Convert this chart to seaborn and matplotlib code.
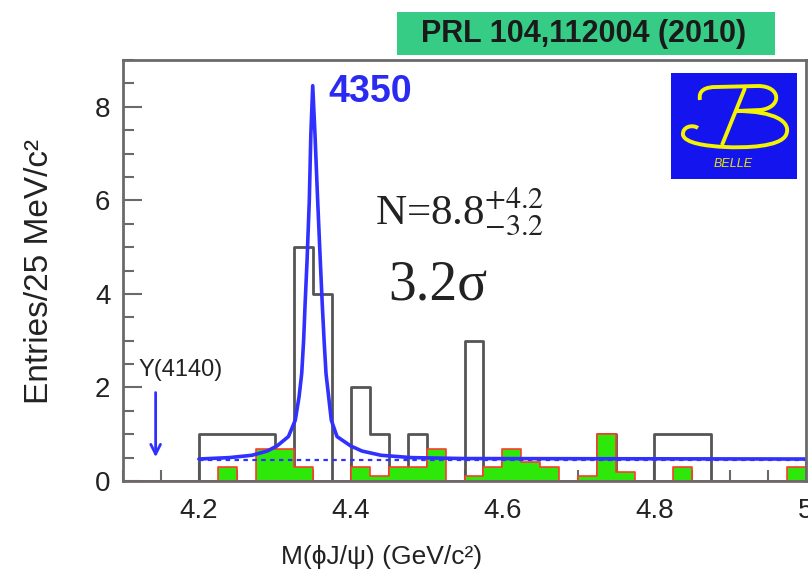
import numpy as np
import pandas as pd
import matplotlib
matplotlib.use("Agg")
import matplotlib.pyplot as plt
import seaborn as sns
from matplotlib.patches import Rectangle, PathPatch
from matplotlib.path import Path
from matplotlib.transforms import Affine2D
from matplotlib.ticker import MultipleLocator, FuncFormatter

# ---------------- data ----------------
hist_start = 4.2
bin_width = 0.025
data_counts = [1, 1, 1, 1, 0, 5, 4, 0, 2, 1, 0, 1, 0, 0, 3, 0,
               0, 0, 0, 0, 0, 1, 0, 0, 1, 1, 1, 0, 0, 0, 0, 0]
sideband_counts = [0, 0.3, 0, 0.69, 0.69, 0.3, 0, 0, 0.3, 0.1, 0.3, 0.3, 0.69, 0, 0.1, 0.3,
                   0.69, 0.4, 0.3, 0, 0.1, 1.0, 0.2, 0, 0, 0.3, 0, 0, 0, 0, 0, 0.3]
fit_mass = [4.200, 4.240, 4.270, 4.290, 4.303, 4.318, 4.327, 4.332, 4.3355, 4.338,
            4.340, 4.3425, 4.3455, 4.3475, 4.350, 4.353, 4.3565, 4.360, 4.3625, 4.365,
            4.3675, 4.371, 4.3745, 4.382, 4.400, 4.415, 4.440, 4.480, 4.550, 5.000]
fit_value = [0.47, 0.50, 0.55, 0.64, 0.75, 0.95, 1.30, 1.80, 2.30, 3.00,
             3.80, 4.70, 6.00, 7.40, 8.45, 7.40, 6.00, 4.70, 3.80, 3.00,
             2.30, 1.80, 1.30, 0.95, 0.75, 0.64, 0.55, 0.50, 0.48, 0.47]
bkg_level = 0.45
bkg_range = [4.2, 5.0]
y4140_mass = 4.143
x_ticks = [4.2, 4.4, 4.6, 4.8, 5.0]
y_ticks = [0, 2, 4, 6, 8]

# ---------------- style ----------------
sns.set_style("ticks")
plt.rcParams['font.family'] = ['Liberation Sans', 'DejaVu Sans']
spine_col = '#6a6a6a'

W, H = 808, 579
fig = plt.figure(figsize=(W / 100, H / 100), dpi=100)
ax = fig.add_axes([123 / W, 1 - 481 / H, (806 - 123) / W, (481 - 60) / H])
pix = Affine2D().scale(1 / W, -1 / H).translate(0, 1) + fig.transFigure

n = len(data_counts)
centers = hist_start + bin_width * (np.arange(n) + 0.5)
df = pd.DataFrame({'mass': centers, 'data': data_counts, 'side': sideband_counts})

sns.histplot(data=df, x='mass', weights='data', binwidth=bin_width, binrange=(4.1, 5.0),
             element='step', fill=False, color='#555555', linewidth=2.0, ax=ax, zorder=2)
sns.histplot(data=df, x='mass', weights='side', binwidth=bin_width, binrange=(4.1, 5.0),
             element='step', fill=True, facecolor='#2ee80a', edgecolor='#ff3b2f',
             linewidth=1.2, alpha=1, ax=ax, zorder=3)

fit_df = pd.DataFrame({'m': fit_mass, 'v': fit_value})
sns.lineplot(data=fit_df, x='m', y='v', color='#3030ff', linewidth=2.6, ax=ax, zorder=5)
bk_df = pd.DataFrame({'m': bkg_range, 'v': [bkg_level, bkg_level]})
sns.lineplot(data=bk_df, x='m', y='v', color='#3030ff', linewidth=1.6, linestyle=(0, (2, 2)),
             ax=ax, zorder=4)

ax.annotate('', xy=(y4140_mass, 0.45), xytext=(y4140_mass, 1.95),
            arrowprops=dict(arrowstyle='->,head_length=0.7,head_width=0.35', color='#3030ff', lw=2))
ax.text(4.1198, 2.38, 'Y(4140)', fontsize=17, color='#222222', ha='left', va='center')

ax.set_xlim(4.1, 5.0)
ax.set_ylim(0, 9)
ax.set_xlabel('')
ax.set_ylabel('')
ax.xaxis.set_major_locator(MultipleLocator(0.2))
ax.xaxis.set_minor_locator(MultipleLocator(0.05))
ax.yaxis.set_major_locator(MultipleLocator(2))
ax.yaxis.set_minor_locator(MultipleLocator(0.5))
ax.xaxis.set_major_formatter(FuncFormatter(lambda v, p: '%g' % round(v, 2)))
ax.tick_params(axis='both', which='both', direction='in', color=spine_col, width=1.5,
               top=False, right=False)
ax.tick_params(axis='both', which='major', length=14, labelsize=20, labelcolor='#222222')
ax.tick_params(axis='both', which='minor', length=8)
ax.tick_params(axis='x', which='major', pad=12)
ax.tick_params(axis='y', which='major', pad=9)
for s in ax.spines.values():
    s.set_color(spine_col)
    s.set_linewidth(2)
    s.set_zorder(10)
    s.set_visible(True)

fig.text(40 / W, 1 - 272 / H, 'Entries/25 MeV/c²', rotation=90, ha='center', va='center',
         fontsize=24, color='#222222')
fig.text(382 / W, 1 - 557 / H, 'M(ϕJ/ψ) (GeV/c²)', ha='center', va='center',
         fontsize=19, color='#222222')

# annotations in the plot
fig.text(328 / W, 1 - 92 / H, '4350', ha='left', va='center', fontsize=27,
         fontweight='bold', color='#2a2af0')
fig.text(375 / W, 1 - 225 / H, r'N=8.8$^{+4.2}_{-3.2}$', ha='left', va='baseline', fontsize=31,
         family='Liberation Serif', math_fontfamily='stix', color='#222222')
fig.text(388 / W, 1 - 300 / H, '3.2σ', ha='left', va='baseline', fontsize=40,
         family=['Liberation Serif', 'DejaVu Serif'], color='#222222')

# title box
fig.add_artist(Rectangle((397, 12), 378, 43, transform=pix, facecolor='#36cc86',
                         edgecolor='none'))
fig.text(584 / W, 1 - 34 / H, 'PRL 104,112004 (2010)', ha='center', va='center',
         fontsize=22, fontweight='bold', color='#1a1a1a')

# Belle logo
fig.add_artist(Rectangle((671, 73), 126, 106, transform=pix, facecolor='#1414ee',
                         edgecolor='none', zorder=6))
M, L, C = Path.MOVETO, Path.LINETO, Path.CURVE4
verts = [(700, 100), (698, 90), (706, 87), (716, 87), (758, 86), (782, 86), (782, 108), (760, 110),
         (736, 111),
         (736, 111), (775, 111), (792, 122), (786, 135), (780, 147), (745, 148), (725, 147),
         (705, 146), (685, 143), (683, 135), (682, 127), (692, 124), (698, 128),
         (745, 88), (722, 145)]
codes = [M, C, C, C, L, C, C, C, L,
         M, C, C, C, C, C, C, C, C, C, C, C, C,
         M, L]
fig.add_artist(PathPatch(Path(verts, codes), transform=pix, facecolor='none',
                         edgecolor='#f4f400', linewidth=2.8, zorder=7))
fig.text(733 / W, 1 - 164 / H, 'BELLE', ha='center', va='center', fontsize=9, style='italic',
         color='#e8e800', zorder=8)

fig.savefig('out.png', dpi=100)
